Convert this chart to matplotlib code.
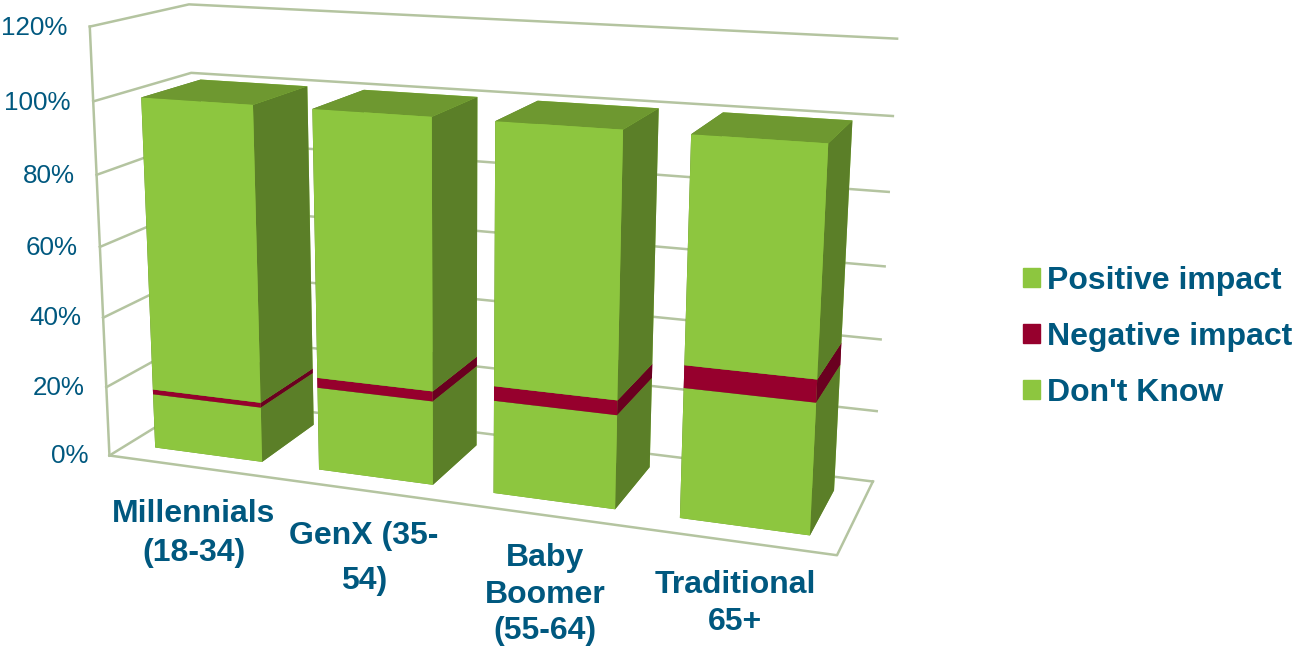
import matplotlib
matplotlib.use("Agg")
import matplotlib.pyplot as plt
from matplotlib.patches import Patch
from mpl_toolkits.mplot3d import proj3d

categories = ["Millennials\n(18-34)", "GenX (35-\n54)", "Baby\nBoomer\n(55-64)", "Traditional\n65+"]
dont_know = [15.8, 23.5, 25.7, 35.0]
negative = [1.4, 2.8, 4.0, 6.0]
positive = [82.8, 73.7, 70.3, 59.0]
z_ticks = [0, 20, 40, 60, 80, 100, 120]
legend_labels = ["Positive impact", "Negative impact", "Don't Know"]

GREEN = "#8DC63F"
GREEN_SIDE = "#5B7F28"
GREEN_TOP = "#6E9830"
RED = "#96002D"
RED_SIDE = "#6A0020"
WALL = "#B4C4A0"
TEXT = "#00587F"

plt.rcParams["font.family"] = ["Liberation Sans", "DejaVu Sans"]

W, H = 1295, 646
fig = plt.figure(figsize=(W / 100, H / 100), dpi=100)

# square 3d axes, centred on the picture's principal point
cx, cy, side = 472, 270, 1000
ax = fig.add_axes([(cx - side / 2) / W, (H - cy - side / 2) / H, side / W, side / H],
                  projection="3d", computed_zorder=False)
ax.set_proj_type("persp", focal_length=0.36)
ax.view_init(elev=14, azim=-70, roll=-0.2)
ax.set_box_aspect((785, 210, 463), zoom=0.88)
ax.set_xlim(0, len(categories), view_margin=0)
ax.set_ylim(0, 1, view_margin=0)
ax.set_zlim(0, 120, view_margin=0)
ax.set_axis_off()

# walls and floor
x_max = len(categories)
proj = ax.get_proj()
for z in z_ticks:
    ax.plot([0, 0, x_max], [0, 1, 1], [z, z, z], color=WALL, lw=1.8, zorder=1)
    # z tick labels are plain 2d text, placed at the projected tick position
    tx, ty, _ = proj3d.proj_transform(-0.135, 0, z, proj)
    ax.annotate(f"{z}%", (tx, ty), xytext=(0, -2.2), textcoords="offset points",
                color=TEXT, fontsize=18.7, ha="right", va="center", annotation_clip=False)
ax.plot([0, 0], [0, 0], [0, 120], color=WALL, lw=1.8, zorder=1)
ax.plot([0, x_max, x_max], [0, 0, 1], [0, 0, 0], color=WALL, lw=1.8, zorder=1)

# stacked bars, left to right, bottom to top
bar_w = 0.66
bar_d = 0.62
for i in range(len(categories)):
    x0 = i + (1 - bar_w) / 2
    y0 = (1 - bar_d) / 2
    bottom = 0
    stack = [(dont_know[i], GREEN, GREEN_SIDE), (negative[i], RED, RED_SIDE), (positive[i], GREEN, GREEN_SIDE)]
    for j, (val, front, side_col) in enumerate(stack):
        # faces: -z, +z, -y, +y, -x, +x
        cols = [GREEN_TOP, GREEN_TOP, front, front, side_col, side_col]
        ax.bar3d(x0, y0, bottom, bar_w, bar_d, val, color=cols, shade=False,
                 linewidth=0, zorder=10 + i * 5 + j)
        bottom += val

# category labels sit under the slanted floor edge
label_xy = [(194, 499), (364, 521), (545, 543), (735, 570)]
label_spacing = [1.39, 1.67, 1.29, 1.29]
for lab, (px, py), ls in zip(categories, label_xy, label_spacing):
    fig.text(px / W, 1 - py / H, lab, color=TEXT, fontsize=23, fontweight="bold",
             ha="center", va="top", linespacing=ls)

handles = [Patch(color=GREEN), Patch(color=RED), Patch(color=GREEN)]
fig.legend(handles, legend_labels, loc="center left", bbox_to_anchor=(1023 / W, 1 - 337 / H),
           frameon=False, prop={"size": 23, "weight": "bold"}, labelcolor=TEXT,
           handlelength=0.53, handleheight=0.53, handletextpad=0.22, labelspacing=0.82,
           borderpad=0, borderaxespad=0)

fig.savefig("out.png", dpi=100)
